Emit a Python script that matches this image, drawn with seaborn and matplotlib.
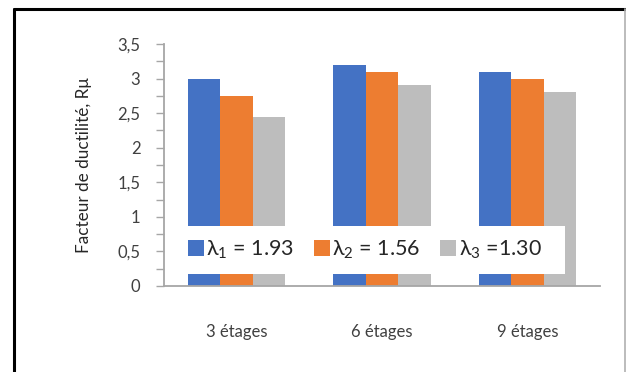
import matplotlib
matplotlib.use("Agg")
import matplotlib.pyplot as plt
from matplotlib.lines import Line2D
from matplotlib.patches import Rectangle
from matplotlib.ticker import MultipleLocator, FixedLocator
import pandas as pd
import seaborn as sns

# Data
categories = ["3 étages", "6 étages", "9 étages"]
series_labels = ["λ$_1$ = 1.93", "λ$_2$ = 1.56", "λ$_3$ =1.30"]
lambda1 = [3.0, 3.2, 3.1]
lambda2 = [2.75, 3.1, 3.0]
lambda3 = [2.45, 2.9, 2.8]
y_ticks = [0, 0.5, 1, 1.5, 2, 2.5, 3, 3.5]
y_tick_labels = ["0", "0,5", "1", "1,5", "2", "2,5", "3", "3,5"]
colors = ["#4472C4", "#ED7D31", "#BDBDBD"]

rows = []
for lab, vals in zip(series_labels, [lambda1, lambda2, lambda3]):
    for cat, v in zip(categories, vals):
        rows.append({"Bâtiment": cat, "Série": lab, "Rmu": v})
df = pd.DataFrame(rows)

sns.set_style("white")
plt.rcParams["font.family"] = ["Lato", "DejaVu Sans"]
plt.rcParams["mathtext.fontset"] = "custom"
plt.rcParams["mathtext.rm"] = "Lato"
plt.rcParams["mathtext.it"] = "Lato"

fig = plt.figure(figsize=(6.26, 3.72), dpi=100)
ax = fig.add_axes([164 / 626, 1 - 286 / 372, 436 / 626, 242 / 372])

sns.barplot(data=df, x="Bâtiment", y="Rmu", hue="Série", order=categories,
            hue_order=series_labels, palette=colors, width=0.67,
            saturation=1, linewidth=0, ax=ax, legend=False, zorder=2)

ax.set_xlim(-0.5, 2.5)
ax.set_ylim(0, 3.5)
ax.yaxis.set_major_locator(FixedLocator(y_ticks))
ax.set_yticklabels(y_tick_labels)
ax.yaxis.set_minor_locator(MultipleLocator(0.25))

axis_gray = "#A6A6A6"
for side in ["top", "right"]:
    ax.spines[side].set_visible(False)
for side in ["left", "bottom"]:
    ax.spines[side].set_color(axis_gray)
    ax.spines[side].set_linewidth(1.3)

ax.tick_params(axis="y", which="both", direction="out", length=6,
               width=1.0, color=axis_gray, labelsize=12,
               labelcolor="#404040", pad=11, left=True)
ax.tick_params(axis="x", length=0, labelsize=12, labelcolor="#404040", pad=27)
ax.set_xlabel("")
ax.set_ylabel("Facteur de ductilité, Rμ", fontsize=12.3, color="#262626",
              labelpad=18)

# White legend box over the bars
ax.add_patch(Rectangle((0.053, 0.17 / 3.5), 0.867, 0.70 / 3.5,
                       transform=ax.transAxes, facecolor="white",
                       edgecolor="none", zorder=4))
handles = [Rectangle((0, 0), 1, 1, facecolor=c, edgecolor="none") for c in colors]
leg = ax.legend(handles, series_labels, loc="center",
                bbox_to_anchor=(0.46, 0.53 / 3.5), ncol=3, frameon=False,
                fontsize=15.5, handlelength=0.75, handleheight=0.75,
                handletextpad=0.12, columnspacing=0.9, borderpad=0.2)
leg.set_zorder(5)
for t in leg.get_texts():
    t.set_color("#262626")

# Outer frame of the figure
fig.add_artist(Line2D([14 / 626, 1], [1 - 9 / 372, 1 - 9 / 372],
                      transform=fig.transFigure, color="black", linewidth=2.2))
fig.add_artist(Line2D([14 / 626, 14 / 626], [0, 1 - 9 / 372],
                      transform=fig.transFigure, color="black", linewidth=2.2))
fig.add_artist(Line2D([625 / 626, 625 / 626], [0, 1 - 9 / 372],
                      transform=fig.transFigure, color="#B0B0B0", linewidth=1.2))

fig.savefig("out.png", dpi=100, facecolor="white")
